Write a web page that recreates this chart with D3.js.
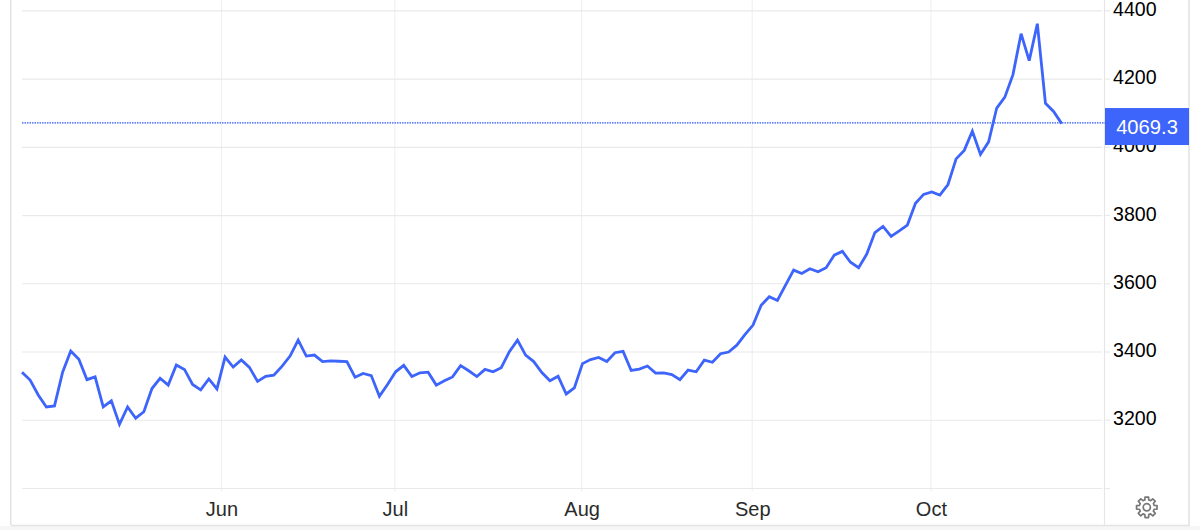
<!DOCTYPE html>
<html><head><meta charset="utf-8">
<script src="https://cdn.jsdelivr.net/npm/d3@7/dist/d3.min.js"></script>
<style>html,body{margin:0;padding:0;background:#fff}svg{display:block}text{font-family:"Liberation Sans",Arial,sans-serif}</style>
</head><body><svg id="c" width="1200" height="530"></svg>
<script>
const prices = [3341,3318,3274,3239,3242,3341,3403,3379,3319,3327,3239,3257,3188,3239,3206,3225,3293,3323,3303,3362,3349,3305,3289,3321,3292,3385,3356,3377,3355,3314,3329,3332,3358,3388,
3435,3388,3391,3372,3374,3373,3372,3326,3337,3331,3270,3305,3342,3361,3328,3339,3341,3303,3316,3327,3360,3345,3328,3349,3342,3354,3401,3435,3391,3372,3340,3316,3329,
3277,3295,3366,3378,3384,3372,3398,3402,3346,3350,3359,3338,3339,3334,3319,3347,3342,3376,3370,3395,3400,3420,3451,3479,3537,3562,3551,3596,3640,3630,3644,3635,3647,3684,3695,3663,3647,
3687,3750,3768,3739,3755,3772,3836,3862,3869,3860,3891,3966,3991,4047,3979,4016,4115,4147,4213,4333,4254,4362,4129,4105,4069.3];
const yTicks = [3000,3200,3400,3600,3800,4000,4200,4400];
const yLabels = [3200,3400,3600,3800,4000,4200,4400];
const monthLabels = ["Jun","Jul","Aug","Sep","Oct"];
const monthIndex = [24.56,45.9,68.9,89.9,111.9];
const lastPrice = 4069.3;

const svg = d3.select("#c");
const x = d3.scaleLinear().domain([0,128]).range([22,1061.7]);
const y = d3.scaleLinear().domain([3000,4400]).range([488.5,10.8]);
const grid = "#e9e9e9", vgrid = "#eef1f4", blue = "#3d64fb";

svg.append("rect").attr("x",0).attr("y",526).attr("width",1200).attr("height",4).attr("fill","#f6f6f6");
svg.append("line").attr("x1",11).attr("x2",1190).attr("y1",525.5).attr("y2",525.5).attr("stroke","#e4e4e4").attr("stroke-width",1.5);
svg.append("line").attr("x1",10.7).attr("x2",10.7).attr("y1",0).attr("y2",525).attr("stroke","#e2e2e2").attr("stroke-width",1.5);
svg.append("line").attr("x1",1189).attr("x2",1189).attr("y1",0).attr("y2",525).attr("stroke","#e2e2e2").attr("stroke-width",1.5);
svg.append("line").attr("x1",1104.5).attr("x2",1104.5).attr("y1",0).attr("y2",525).attr("stroke","#e6e6e6").attr("stroke-width",1.2);

svg.append("g").selectAll("line").data(monthIndex).join("line")
  .attr("x1",d=>x(d)).attr("x2",d=>x(d)).attr("y1",0).attr("y2",y(3000)+3)
  .attr("stroke",vgrid).attr("stroke-width",1.2);
svg.append("g").selectAll("line").data(yTicks).join("line")
  .attr("x1",22).attr("x2",1102).attr("y1",d=>y(d)).attr("y2",d=>y(d))
  .attr("stroke",grid).attr("stroke-width",1.2);
svg.append("g").selectAll("line").data(yTicks).join("line")
  .attr("x1",1105).attr("x2",1110).attr("y1",d=>y(d)).attr("y2",d=>y(d))
  .attr("stroke",grid).attr("stroke-width",1.2);

svg.append("g").selectAll("text").data(yLabels).join("text")
  .attr("x",1113).attr("y",d=>y(d)+5).attr("font-size",19.6).attr("fill","#000").text(d=>d);
svg.append("g").selectAll("text").data(monthLabels).join("text")
  .attr("x",(d,i)=>x(monthIndex[i])+0.5).attr("y",516).attr("text-anchor","middle")
  .attr("font-size",20).attr("fill","#2b2b2b").text(d=>d);

svg.append("line").attr("x1",22).attr("x2",1105).attr("y1",y(lastPrice)-0.8).attr("y2",y(lastPrice)-0.8)
  .attr("stroke","#2f58f5").attr("stroke-width",1.2).attr("stroke-dasharray","1.5 1");
svg.append("path").datum(prices).attr("fill","none").attr("stroke",blue).attr("stroke-width",2.8)
  .attr("stroke-linejoin","miter").attr("stroke-miterlimit",3)
  .attr("d",d3.line().x((d,i)=>x(i)).y(d=>y(d)));

svg.append("rect").attr("x",1105).attr("y",y(lastPrice)-15.6).attr("width",84).attr("height",37).attr("fill",blue);
svg.append("text").attr("x",1147).attr("y",y(lastPrice)+10).attr("text-anchor","middle")
  .attr("font-size",20.2).attr("fill","#fff").text(lastPrice.toFixed(1));

// settings gear
const gearTeeth = 8, gx = 1146.8, gy = 507.3;
const gearPts = [];
d3.range(gearTeeth).forEach(k=>{
  const a0 = k/gearTeeth*2*Math.PI;
  [[-0.26,7.6],[-0.17,10.4],[0.17,10.4],[0.26,7.6]].forEach(([o,r])=>{
    gearPts.push([gx+r*Math.sin(a0+o), gy-r*Math.cos(a0+o)]);
  });
});
svg.append("path").attr("d",d3.line().curve(d3.curveLinearClosed)(gearPts))
  .attr("fill","none").attr("stroke","#777").attr("stroke-width",1.7).attr("stroke-linejoin","round");
svg.append("circle").attr("cx",gx).attr("cy",gy).attr("r",3.6).attr("fill","none").attr("stroke","#777").attr("stroke-width",1.7);
</script></body></html>
